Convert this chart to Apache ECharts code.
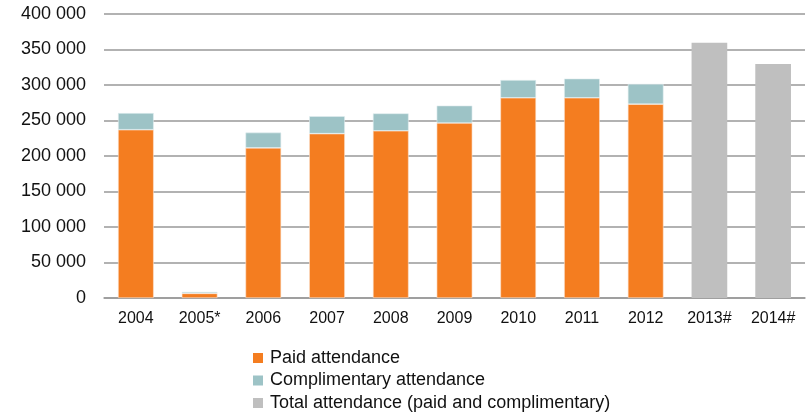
<!DOCTYPE html>
<html>
<head>
<meta charset="utf-8">
<script src="https://cdn.jsdelivr.net/npm/echarts@6/dist/echarts.min.js"></script>
<style>
  html, body { margin: 0; padding: 0; background: #fff; }
  #chart { width: 806px; height: 417px; }
</style>
</head>
<body>
<div id="chart"></div>
<script>
// Attendance by year
const years = ['2004', '2005*', '2006', '2007', '2008', '2009', '2010', '2011', '2012', '2013#', '2014#'];
const paid = [237000, 6500, 211500, 231500, 235500, 246500, 282000, 282000, 273000, null, null];
const complimentary = [23500, 2000, 21500, 24500, 24500, 24500, 25000, 27000, 28500, null, null];
const total = [null, null, null, null, null, null, null, null, null, 359500, 329500];
const yTicks = [0, 50000, 100000, 150000, 200000, 250000, 300000, 350000, 400000];

const fmt = v => v === 0 ? '0' : String(v).replace(/\B(?=(\d{3})+(?!\d))/g, ' ');

const chart = echarts.init(document.getElementById('chart'));
chart.setOption({
  animation: false,
  textStyle: { fontFamily: 'Liberation Sans, Arial, sans-serif' },
  grid: { left: 104, right: 1, top: 14, bottom: 119, containLabel: false },
  xAxis: {
    type: 'category',
    data: years,
    axisTick: { show: false },
    axisLine: { lineStyle: { color: '#999', width: 1.5 } },
    axisLabel: { color: '#111', fontSize: 16, margin: 13 }
  },
  yAxis: {
    type: 'value',
    min: yTicks[0],
    max: yTicks[yTicks.length - 1],
    interval: 50000,
    axisLine: { show: false },
    axisTick: { show: false },
    splitLine: { lineStyle: { color: '#999', width: 1.5 } },
    axisLabel: { color: '#111', fontSize: 18, margin: 18, formatter: fmt }
  },
  legend: {
    orient: 'vertical',
    left: 253,
    top: 349,
    height: 100,
    padding: 0,
    itemWidth: 10,
    itemHeight: 10,
    itemGap: 4.5,
    icon: 'rect',
    itemStyle: { borderWidth: 0 },
    textStyle: { color: '#111', fontSize: 18, lineHeight: 18, padding: [0, 0, 0, 2] },
    data: ['Paid attendance', 'Complimentary attendance', 'Total attendance (paid and complimentary)']
  },
  series: [
    {
      name: 'Paid attendance', type: 'bar', stack: 'a', data: paid, barWidth: '56%',
      itemStyle: { color: '#F47D20', borderColor: '#fbe3d0', borderWidth: 0.6 }
    },
    {
      name: 'Complimentary attendance', type: 'bar', stack: 'a', data: complimentary,
      itemStyle: { color: '#9DC3C6', borderColor: '#e3eff0', borderWidth: 0.6 }
    },
    {
      name: 'Total attendance (paid and complimentary)', type: 'bar', stack: 'a', data: total,
      itemStyle: { color: '#BFBFBF' }
    }
  ]
});
</script>
</body>
</html>
